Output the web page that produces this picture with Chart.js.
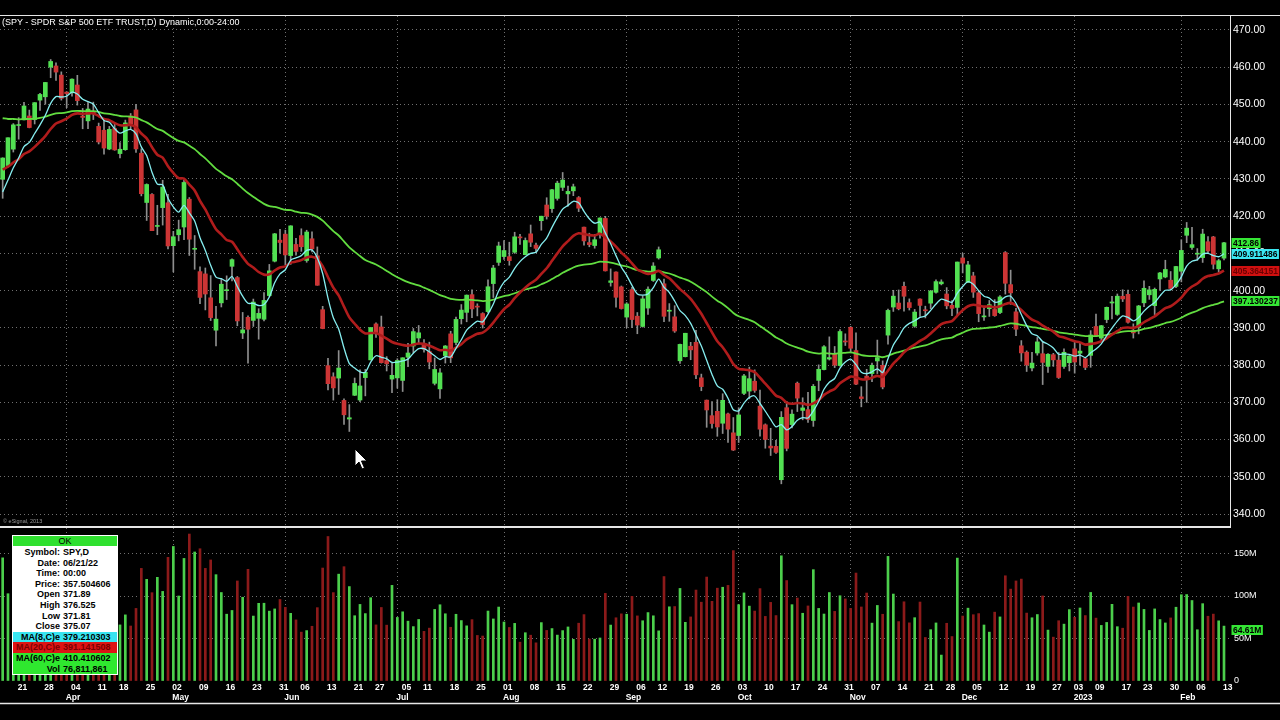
<!DOCTYPE html>
<html>
<head>
<meta charset="utf-8">
<script src="https://cdn.jsdelivr.net/npm/chart.js"></script>
<style>
  html, body { margin: 0; padding: 0; background: #000; }
  body { width: 1280px; height: 720px; position: relative; overflow: hidden; font-family: "Liberation Sans", Arial, sans-serif; }
  canvas { position: absolute; left: 0; }
  #priceChart { top: 0; }
  #volChart { top: 527px; }
  #title { position: absolute; left: 2px; top: 17px; color: #fff; font: 9px "Liberation Sans", Arial, sans-serif; white-space: nowrap; }
  #info { position: absolute; left: 12px; top: 535px; width: 106px; height: 140px; background: #fff; box-sizing: border-box; padding: 1px; font: bold 9px "Liberation Sans", Arial, sans-serif; color: #000; }
  #info .hdr { height: 10px; line-height: 10px; background: #2fe02f; text-align: center; font-weight: normal; margin-bottom: 1px; }
  #info .row { height: 10.6px; line-height: 10.6px; white-space: nowrap; }
  #info .k { display: inline-block; width: 47px; text-align: right; }
  #info .v { margin-left: 3px; }
  #info .cyan { background: #38e4f0; }
  #info .red { background: #dd1414; color: #7a0000; }
  #info .green { background: #2fe82f; }
</style>
</head>
<body>
<canvas id="priceChart" width="1280" height="528"></canvas>
<canvas id="volChart" width="1280" height="183"></canvas>
<div id="title">(SPY - SPDR S&amp;P 500 ETF TRUST,D) Dynamic,0:00-24:00</div>
<div id="info">
  <div class="hdr">OK</div>
  <div class="row"><span class="k">Symbol:</span><span class="v">SPY,D</span></div>
  <div class="row"><span class="k">Date:</span><span class="v">06/21/22</span></div>
  <div class="row"><span class="k">Time:</span><span class="v">00:00</span></div>
  <div class="row"><span class="k">Price:</span><span class="v">357.504606</span></div>
  <div class="row"><span class="k">Open</span><span class="v">371.89</span></div>
  <div class="row"><span class="k">High</span><span class="v">376.525</span></div>
  <div class="row"><span class="k">Low</span><span class="v">371.81</span></div>
  <div class="row"><span class="k">Close</span><span class="v">375.07</span></div>
  <div class="row cyan"><span class="k">MA(8,C)e</span><span class="v">379.210303</span></div>
  <div class="row red"><span class="k">MA(20,C)e</span><span class="v">391.141508</span></div>
  <div class="row green"><span class="k">MA(60,C)e</span><span class="v">410.410602</span></div>
  <div class="row green"><span class="k">Vol</span><span class="v">76,811,861</span></div>
</div>
<script>
// trading calendar
const START = "2022-03-16";
const END = "2023-02-13";
const HOLIDAYS = ["2022-04-15", "2022-05-30", "2022-06-20", "2022-07-04", "2022-09-05",
  "2022-11-24", "2022-12-26", "2023-01-02", "2023-01-16"];
const MONTHS = ["Jan", "Feb", "Mar", "Apr", "May", "Jun", "Jul", "Aug", "Sep", "Oct", "Nov", "Dec"];

// daily bars, one line per month (Mar 2022 .. Feb 2023)
const OPEN = [
  429.89,433.59,438.00,444.34,445.86,446.91,445.94,451.16,452.06,460.02,460.34,457.89,
  453.31,453.13,455.22,446.89,445.59,447.97,444.11,443.08,438.03,443.55,436.81,437.86,446.92,448.54,436.91,423.67,425.83,417.24,422.29,423.59,
  412.07,415.01,417.08,424.55,411.10,405.10,404.49,398.07,389.37,396.71,399.98,406.53,403.50,388.62,392.83,392.00,392.56,392.31,398.67,407.91,413.55,
  415.17,409.42,412.40,414.78,408.10,413.93,409.34,394.88,379.85,376.85,376.51,370.51,365.51,371.89,370.62,376.64,381.40,391.05,390.23,381.23,376.24,
  376.56,375.88,382.11,385.12,387.27,385.85,383.65,375.10,373.61,382.55,388.38,386.08,392.47,394.16,398.92,395.75,393.84,394.36,401.89,407.58,
  409.15,409.12,410.30,414.37,409.66,415.25,412.22,418.78,422.99,422.03,424.77,427.73,425.99,426.80,424.98,417.05,412.90,412.11,415.24,419.39,402.20,405.00,401.01,
  392.89,400.28,393.13,390.37,395.31,402.74,408.78,401.83,394.47,392.96,381.16,382.26,385.06,386.11,376.58,370.58,366.41,367.58,364.38,366.88,361.80,
  361.08,372.40,373.01,375.66,368.97,363.96,358.24,358.17,349.21,368.55,364.01,375.13,367.82,368.03,365.12,375.89,378.79,381.62,383.07,379.87,386.44,
  390.14,383.90,371.47,377.03,377.71,381.11,379.93,388.05,395.59,396.66,401.15,396.78,390.46,397.74,394.64,396.63,399.55,401.83,399.09,396.05,395.49,
  408.77,402.25,403.95,399.42,392.94,395.14,394.94,394.11,410.22,401.61,394.30,385.18,383.47,379.23,383.25,383.05,379.65,382.79,381.33,379.63,380.64,
  384.37,383.18,381.72,382.61,390.37,387.25,392.23,396.67,393.62,398.48,399.01,389.36,390.10,396.72,398.88,395.95,403.13,403.66,402.80,401.13,
  405.21,414.86,411.59,409.79,408.87,413.13,414.41,405.86,408.72
];
const HIGH = [
  435.68,441.07,444.86,446.46,450.58,448.49,450.50,452.98,455.91,462.07,461.20,458.76,
  453.46,456.91,457.83,448.93,450.69,450.63,445.00,445.75,444.11,444.73,439.75,445.80,447.57,450.01,438.08,428.69,426.04,422.92,429.64,425.87,
  415.92,418.93,429.66,425.00,414.80,406.41,406.08,404.04,395.80,403.18,403.97,408.57,403.80,394.14,393.21,397.73,395.15,399.45,407.04,415.38,416.46,
  416.24,417.44,414.04,416.61,416.22,415.82,411.74,395.78,381.81,377.94,383.90,370.94,369.38,376.53,378.72,378.83,390.09,391.36,393.16,382.27,380.66,
  381.70,381.98,385.87,389.83,390.64,386.87,386.16,381.92,379.05,385.25,389.09,392.87,396.26,398.84,400.18,396.47,394.06,402.88,406.80,413.03,
  413.41,413.00,415.68,415.09,414.15,417.62,412.75,419.99,424.95,427.21,429.40,431.73,428.05,428.61,425.26,417.05,415.42,415.11,419.56,419.96,405.84,405.08,401.24,
  396.78,400.87,394.12,398.59,401.02,407.51,411.73,403.10,396.51,395.96,385.62,388.55,386.12,389.31,377.58,370.62,370.21,370.71,372.30,367.11,365.91,
  368.55,377.49,379.46,378.72,373.29,364.21,363.03,359.82,367.51,370.26,367.98,375.45,371.22,372.67,374.80,380.06,385.25,387.58,385.00,389.52,388.40,
  390.39,388.63,374.20,378.87,380.57,386.72,381.14,395.04,400.09,400.18,402.31,397.78,394.95,397.81,395.82,400.07,402.93,402.91,400.81,397.30,407.68,
  410.00,407.86,404.93,399.99,395.64,397.36,397.58,398.64,410.49,405.50,395.25,386.58,383.82,383.40,387.41,386.21,383.06,383.15,383.39,384.35,382.58,
  386.43,385.88,381.84,389.25,393.70,390.65,395.60,398.49,399.10,400.23,400.12,391.08,396.04,402.65,401.15,400.70,404.92,408.16,405.13,406.53,
  413.67,418.31,416.97,411.29,416.49,414.53,414.57,408.44,412.97
];
const LOW = [
  424.80,433.19,437.22,440.68,445.86,443.71,444.76,448.43,450.06,457.18,456.47,451.16,
  449.14,452.26,449.82,443.47,443.53,445.94,439.39,436.65,437.84,437.68,435.61,437.68,443.48,437.10,425.44,418.84,416.07,415.01,417.60,411.21,
  405.02,413.36,413.71,409.44,405.73,396.50,394.82,391.96,385.15,395.61,397.60,402.58,390.55,387.11,380.54,390.38,386.96,391.89,398.45,407.70,410.03,
  406.93,407.04,409.51,410.55,407.61,410.38,401.44,389.75,373.30,370.59,372.12,364.08,362.17,371.81,370.18,371.73,381.37,387.44,380.53,378.42,372.56,
  373.80,372.90,379.60,383.27,385.66,383.50,378.99,374.66,371.04,380.54,380.66,385.39,391.03,391.63,392.75,393.21,389.95,394.05,398.15,406.77,
  408.40,406.82,410.00,412.44,409.60,411.83,410.22,416.22,419.21,421.03,424.28,426.88,422.65,425.50,421.22,412.21,411.77,411.39,414.09,405.25,401.20,395.58,395.04,
  390.04,390.05,388.42,390.20,393.58,402.46,408.46,391.69,391.76,388.78,380.46,382.18,381.44,376.38,373.11,363.29,363.03,360.87,361.62,359.21,357.04,
  359.21,372.07,370.95,372.68,360.94,357.67,355.71,356.30,348.11,356.96,363.13,367.52,365.30,364.61,363.54,373.11,378.67,381.35,379.33,379.68,385.26,
  383.29,374.76,368.79,370.00,375.53,377.72,373.61,385.64,394.41,394.83,394.49,394.79,390.14,393.04,392.66,395.15,399.31,401.54,395.11,393.30,393.48,
  404.75,402.14,398.17,391.64,391.97,393.07,393.10,393.80,399.07,396.31,387.89,381.04,378.28,378.43,382.66,374.77,378.03,379.65,376.42,379.08,378.43,
  377.83,380.00,378.76,379.41,387.67,386.27,391.38,392.42,393.34,397.06,391.28,387.26,388.38,395.72,397.64,393.56,400.03,403.44,400.28,400.77,
  402.35,412.88,411.09,408.10,407.57,409.93,405.81,405.01,408.24
];
const CLOSE = [
  435.62,441.07,444.52,444.39,449.59,443.80,450.49,452.69,455.91,461.55,458.70,451.64,
  452.92,456.80,451.03,446.52,448.77,447.57,439.92,438.29,443.31,437.79,437.97,445.04,444.71,438.06,426.04,428.51,416.10,417.27,427.81,412.00,
  414.48,416.38,429.06,413.81,411.34,398.17,399.09,392.75,392.34,401.72,400.09,408.32,391.86,389.46,389.63,396.92,393.89,397.37,405.31,415.26,412.93,
  409.59,417.39,410.54,411.79,415.74,411.22,401.44,389.80,375.00,373.87,379.20,366.65,365.86,375.07,374.39,378.06,390.08,388.59,380.65,380.34,377.25,
  381.24,381.96,383.25,388.99,388.67,384.23,380.83,378.83,377.91,385.13,381.95,392.27,394.77,398.79,395.09,395.57,390.89,401.04,406.07,411.99,
  410.77,408.06,414.45,414.17,413.47,412.99,411.35,419.99,419.99,427.10,428.86,429.70,426.65,427.89,422.14,413.35,412.35,413.67,419.51,405.31,402.63,398.21,395.18,
  396.42,392.24,390.76,397.78,400.38,406.60,410.97,393.10,394.69,389.15,385.56,388.55,384.09,377.39,374.22,367.95,364.31,363.38,370.53,362.79,357.18,
  366.61,377.09,376.35,373.20,362.79,360.02,357.74,356.56,365.97,357.63,366.82,371.13,368.50,365.41,374.29,378.87,384.92,382.02,379.98,389.02,386.21,
  384.52,374.87,371.01,376.35,379.95,382.00,374.13,394.69,398.51,395.12,398.49,395.45,394.24,396.03,394.59,399.90,402.42,402.33,395.91,395.23,407.68,
  407.38,406.91,399.59,393.83,393.16,396.24,393.28,398.31,401.97,399.40,389.63,383.27,380.02,380.54,386.23,380.72,382.91,381.40,376.66,383.44,382.43,
  380.82,383.76,379.38,388.08,387.86,390.58,395.52,396.96,398.50,397.77,391.49,388.64,395.88,400.63,400.20,400.35,404.75,405.68,400.59,406.48,
  410.80,416.78,412.35,409.83,415.19,410.65,407.09,408.04,412.86
];
// volume in millions
const VOLUME = [
  144.9,102.7,157.3,88.3,74.6,79.4,64.6,77.2,68.5,86.3,79.7,121.7,
  89.0,59.6,74.9,106.9,78.0,79.3,89.8,84.4,74.1,97.9,66.0,77.8,64.7,85.4,132.5,119.6,103.9,122.0,105.4,145.5,
  158.3,100.0,144.2,172.9,151.8,155.6,132.5,142.4,125.1,104.1,78.6,83.0,117.7,98.5,131.4,76.4,91.4,91.5,82.2,84.8,95.9,
  86.6,79.6,71.9,57.5,59.3,64.4,86.3,132.9,170.0,104.0,125.7,134.5,111.1,76.8,90.1,79.3,98.0,66.0,86.5,65.7,112.5,
  74.8,81.4,70.4,64.0,72.4,58.4,62.2,84.2,89.7,79.1,63.2,78.5,71.1,64.9,72.2,53.6,52.9,82.3,73.0,87.0,
  69.4,63.0,67.8,45.7,56.8,53.9,44.9,68.7,59.5,61.7,54.0,59.3,63.6,49.0,68.0,78.1,49.4,49.2,50.6,103.1,65.8,74.4,79.0,
  78.6,99.6,76.6,70.9,80.5,76.7,59.0,122.9,87.3,87.6,108.9,69.0,75.4,107.0,92.7,122.3,93.7,109.2,110.3,112.5,153.4,
  89.8,103.6,88.1,82.3,108.7,76.0,92.5,77.0,147.3,118.2,89.8,97.6,79.7,88.3,131.0,85.4,78.8,104.1,81.9,100.3,96.6,
  85.4,127.0,87.1,103.5,68.1,88.9,78.5,146.6,102.3,69.9,93.2,68.4,74.5,92.9,51.2,60.4,68.3,30.5,67.9,52.3,144.6,
  76.4,85.7,78.0,79.3,65.9,57.5,81.0,75.4,123.8,108.1,117.7,119.9,79.9,74.4,78.2,100.1,59.9,51.6,70.9,66.9,84.0,
  74.9,85.9,77.0,104.2,74.0,65.4,68.9,90.2,63.9,62.1,99.6,87.0,91.8,84.2,59.5,84.8,72.3,68.3,74.2,86.8,
  101.5,101.7,94.7,60.3,91.0,76.2,78.7,70.8,64.6
];
// moving averages as plotted
const MA8 = [
  426.5,429.7,433.0,435.6,438.7,439.8,442.2,444.5,447.1,450.3,452.1,452.0,
  452.2,453.3,452.8,451.4,450.8,450.1,447.8,445.7,445.2,443.5,442.3,442.9,443.3,442.1,438.6,436.3,431.8,428.6,428.4,424.8,
  422.5,421.1,422.9,420.9,418.7,414.2,410.8,406.8,403.6,403.2,402.5,403.8,401.1,398.5,396.6,396.6,396.0,396.3,398.3,402.1,404.5,
  405.6,408.2,408.8,409.4,410.8,410.9,408.8,404.6,398.0,392.7,389.7,384.6,380.4,379.2,378.2,378.1,380.8,382.5,382.1,381.7,380.7,
  380.8,381.1,381.6,383.2,384.4,384.4,383.6,382.5,381.5,382.3,382.2,384.5,386.8,389.4,390.7,391.8,391.6,393.7,396.4,399.9,
  402.3,403.6,406.0,407.8,409.1,410.0,410.3,412.4,414.1,417.0,419.6,421.9,422.9,424.0,423.6,421.3,419.3,418.1,418.4,415.5,412.6,409.4,406.3,
  404.1,401.4,399.1,398.8,399.1,400.8,403.1,400.9,399.5,397.2,394.6,393.3,391.2,388.2,385.1,381.3,377.5,374.4,373.5,371.1,368.0,
  367.7,369.8,371.3,371.7,369.7,367.6,365.4,363.4,364.0,362.6,363.5,365.2,365.9,365.8,367.7,370.2,373.5,375.4,376.4,379.2,380.8,
  381.6,380.1,378.1,377.7,378.2,379.0,378.0,381.7,385.4,387.6,390.0,391.2,391.9,392.8,393.2,394.7,396.4,397.7,397.3,396.9,399.3,
  401.1,402.4,401.7,400.0,398.5,398.0,396.9,397.2,398.3,398.5,396.6,393.6,390.6,388.4,387.9,386.3,385.6,384.6,382.9,383.0,382.9,
  382.4,382.7,382.0,383.3,384.3,385.7,387.9,389.9,391.8,393.2,392.8,391.9,392.8,394.5,395.8,396.8,398.6,400.1,400.2,401.6,
  403.7,406.6,407.9,408.3,409.8,410.0,409.4,409.1,409.9
];
const MA20 = [
  432.5,433.3,434.4,435.3,436.7,437.4,438.6,440.0,441.5,443.4,444.9,445.5,
  446.2,447.2,447.6,447.5,447.6,447.6,446.9,446.1,445.8,445.0,444.4,444.4,444.5,443.9,442.2,440.9,438.5,436.5,435.7,433.4,
  431.6,430.2,430.1,428.5,426.9,424.1,421.8,419.0,416.5,415.1,413.6,413.1,411.1,409.0,407.2,406.2,405.0,404.3,404.4,405.4,406.2,
  406.5,407.5,407.8,408.2,408.9,409.1,408.4,406.6,403.6,400.8,398.7,395.7,392.8,391.1,389.5,388.5,388.6,388.6,387.9,387.1,386.2,
  385.7,385.4,385.2,385.5,385.8,385.7,385.2,384.6,384.0,384.1,383.9,384.7,385.6,386.9,387.7,388.4,388.7,389.8,391.4,393.3,
  395.0,396.2,398.0,399.5,400.8,402.0,402.9,404.5,406.0,408.0,410.0,411.9,413.3,414.7,415.4,415.2,414.9,414.8,415.3,414.3,413.2,411.8,410.2,
  408.9,407.3,405.7,405.0,404.5,404.7,405.3,404.2,403.3,401.9,400.4,399.2,397.8,395.9,393.8,391.3,388.8,386.4,384.8,382.7,380.3,
  379.0,378.8,378.6,378.1,376.6,375.0,373.4,371.8,371.2,369.9,369.6,369.8,369.7,369.3,369.7,370.6,372.0,372.9,373.6,375.1,376.1,
  376.9,376.7,376.2,376.2,376.6,377.1,376.8,378.5,380.4,381.8,383.4,384.6,385.5,386.5,387.3,388.5,389.8,391.0,391.5,391.8,393.3,
  394.7,395.8,396.2,396.0,395.7,395.8,395.5,395.8,396.4,396.7,396.0,394.8,393.4,392.2,391.6,390.6,389.8,389.0,387.8,387.4,386.9,
  386.4,386.1,385.5,385.7,385.9,386.4,387.2,388.2,389.1,390.0,390.1,390.0,390.5,391.5,392.3,393.1,394.2,395.3,395.8,396.8,
  398.1,399.9,401.1,401.9,403.2,403.9,404.2,404.6,405.4
];
const MA60 = [
  446.3,446.1,446.1,446.0,446.1,446.1,446.2,446.4,446.7,447.2,447.6,447.7,
  447.9,448.2,448.3,448.2,448.2,448.2,448.0,447.6,447.5,447.2,446.9,446.8,446.7,446.5,445.8,445.2,444.3,443.4,442.9,441.9,
  441.0,440.2,439.8,438.9,438.0,436.7,435.5,434.1,432.7,431.7,430.7,429.9,428.7,427.4,426.2,425.2,424.2,423.3,422.7,422.5,422.1,
  421.7,421.6,421.2,420.9,420.8,420.4,419.8,418.8,417.4,416.0,414.8,413.2,411.6,410.4,409.3,408.2,407.6,407.0,406.2,405.3,404.4,
  403.6,402.9,402.3,401.8,401.4,400.8,400.2,399.5,398.8,398.3,397.8,397.6,397.5,397.6,397.5,397.4,397.2,397.3,397.6,398.1,
  398.5,398.8,399.3,399.8,400.3,400.7,401.0,401.7,402.3,403.1,403.9,404.8,405.5,406.2,406.7,407.0,407.1,407.4,407.8,407.7,407.5,407.2,406.8,
  406.5,406.0,405.5,405.3,405.1,405.1,405.3,404.9,404.6,404.1,403.5,403.0,402.4,401.5,400.6,399.6,398.4,397.3,396.4,395.3,394.0,
  393.1,392.6,392.1,391.5,390.5,389.5,388.5,387.4,386.7,385.8,385.2,384.7,384.2,383.6,383.3,383.1,383.2,383.1,383.0,383.2,383.3,
  383.4,383.1,382.7,382.5,382.4,382.4,382.1,382.5,383.1,383.5,383.9,384.3,384.7,385.0,385.3,385.8,386.4,386.9,387.2,387.4,388.1,
  388.7,389.3,389.7,389.8,389.9,390.1,390.2,390.5,390.9,391.2,391.1,390.8,390.5,390.2,390.0,389.7,389.5,389.2,388.8,388.6,388.4,
  388.2,388.0,387.8,387.8,387.8,387.9,388.1,388.4,388.7,389.0,389.1,389.1,389.3,389.7,390.0,390.4,390.8,391.3,391.6,392.1,
  392.7,393.5,394.1,394.6,395.3,395.8,396.2,396.6,397.1
];

const PRICE_TICKS = [340, 350, 360, 370, 380, 390, 400, 410, 420, 430, 440, 450, 460, 470];
const VOL_TICKS = [0, 50, 100, 150];
// last-value tags shown on the price axis
const PRICE_TAGS = ["412.86", "409.911486", "405.364151", "397.130237"];
const VOL_TAG = "64.61M";

const GREEN = "#52e052";
const RED = "#cc3535";
const GRID = "#707070";

function tradingDays(start, end, holidays) {
  const out = [];
  const d = new Date(start + "T00:00:00Z");
  const stop = new Date(end + "T00:00:00Z");
  while (d <= stop) {
    const iso = d.toISOString().slice(0, 10);
    const dow = d.getUTCDay();
    if (dow !== 0 && dow !== 6 && !holidays.includes(iso)) out.push(iso);
    d.setUTCDate(d.getUTCDate() + 1);
  }
  return out;
}

const DATES = tradingDays(START, END, HOLIDAYS);
const labels = DATES.concat([""]);

const dow = (iso) => new Date(iso + "T00:00:00Z").getUTCDay();
const monthStart = labels.map((iso, i) => i > 0 && iso !== "" && iso.slice(5, 7) !== labels[i - 1].slice(5, 7));
const tickText = labels.map((iso, i) => {
  if (i === 0 || iso === "") return "";
  const weekStart = dow(iso) <= dow(labels[i - 1]);
  const m = Number(iso.slice(5, 7));
  const day = weekStart ? iso.slice(8, 10) : "";
  const mon = monthStart[i] ? (m === 1 ? iso.slice(0, 4) : MONTHS[m - 1]) : "";
  if (!day && !mon) return "";
  return [day, mon];
});

const candleColor = (i) => {
  if (CLOSE[i] > OPEN[i]) return GREEN;
  if (CLOSE[i] < OPEN[i]) return RED;
  return "#b0b0b0";
};
const monthGrid = (ctx) => (monthStart[ctx.index] ? GRID : "transparent");

Chart.defaults.font.family = '"Liberation Sans", Arial, sans-serif';

const priceFrame = {
  id: "priceFrame",
  afterDraw(chart) {
    const { ctx, chartArea: a } = chart;
    const y = chart.scales.y;
    const edge = a.right - 1.5;
    ctx.save();
    ctx.strokeStyle = "#e6e6e6";
    ctx.lineWidth = 1;
    ctx.beginPath();
    ctx.moveTo(0, 15.5);
    ctx.lineTo(1280, 15.5);
    ctx.moveTo(edge, 15);
    ctx.lineTo(edge, a.bottom + 1);
    ctx.stroke();
    ctx.lineWidth = 2;
    ctx.beginPath();
    ctx.moveTo(0, a.bottom + 1);
    ctx.lineTo(edge + 0.5, a.bottom + 1);
    ctx.stroke();

    // value tags on the axis
    const n = CLOSE.length - 1;
    const tags = [
      [CLOSE[n], PRICE_TAGS[0], "#35e635", "#000"],
      [MA8[n], PRICE_TAGS[1], "#3ae6f0", "#000"],
      [MA20[n], PRICE_TAGS[2], "#d01010", "#6a0000"],
      [MA60[n], PRICE_TAGS[3], "#35e635", "#000"]
    ];
    ctx.font = "bold 8.5px 'Liberation Sans', Arial, sans-serif";
    ctx.textBaseline = "middle";
    tags.forEach(([v, txt, bg, fg]) => {
      const py = Math.round(y.getPixelForValue(v));
      const w = ctx.measureText(txt).width + 3;
      ctx.fillStyle = bg;
      ctx.fillRect(edge + 1, py - 5, w, 10);
      ctx.fillStyle = fg;
      ctx.fillText(txt, edge + 2.5, py + 0.5);
    });

    ctx.fillStyle = "#9a9a9a";
    ctx.font = "5.5px 'Liberation Sans', Arial, sans-serif";
    ctx.textBaseline = "alphabetic";
    ctx.fillText("\u00a9 eSignal, 2013", 3, 523);

    // mouse pointer
    ctx.beginPath();
    ctx.moveTo(355, 449);
    ctx.lineTo(355, 466);
    ctx.lineTo(359, 462);
    ctx.lineTo(362, 469);
    ctx.lineTo(364.5, 468);
    ctx.lineTo(361.5, 461);
    ctx.lineTo(367, 461);
    ctx.closePath();
    ctx.fillStyle = "#fff";
    ctx.fill();
    ctx.lineWidth = 1;
    ctx.strokeStyle = "#000";
    ctx.stroke();
    ctx.restore();
  }
};

const volFrame = {
  id: "volFrame",
  afterDraw(chart) {
    const { ctx, chartArea: a } = chart;
    const y = chart.scales.y;
    ctx.save();
    ctx.strokeStyle = "#e6e6e6";
    ctx.lineWidth = 1.5;
    ctx.beginPath();
    ctx.moveTo(0, 176.5);
    ctx.lineTo(1280, 176.5);
    ctx.stroke();
    const py = Math.round(y.getPixelForValue(VOLUME[VOLUME.length - 1])) + 4;
    ctx.font = "bold 8.5px 'Liberation Sans', Arial, sans-serif";
    ctx.textBaseline = "middle";
    const w = ctx.measureText(VOL_TAG).width + 3;
    ctx.fillStyle = "#35e635";
    ctx.fillRect(a.right - 0.5, py - 5, w, 10);
    ctx.fillStyle = "#000";
    ctx.fillText(VOL_TAG, a.right + 1, py + 0.5);
    ctx.restore();
  }
};

new Chart(document.getElementById("priceChart"), {
  type: "bar",
  data: {
    labels: labels,
    datasets: [
      {
        type: "line", label: "MA(8,C)e", data: MA8, borderColor: "#86eef0", borderWidth: 1.3,
        pointRadius: 0, tension: 0.25, order: 1
      },
      {
        type: "line", label: "MA(20,C)e", data: MA20, borderColor: "#b01c1c", borderWidth: 2.6,
        pointRadius: 0, tension: 0.25, order: 2
      },
      {
        type: "line", label: "MA(60,C)e", data: MA60, borderColor: "#62dd40", borderWidth: 1.8,
        pointRadius: 0, tension: 0.25, order: 3
      },
      {
        label: "body",
        data: OPEN.map((o, i) => [Math.min(o, CLOSE[i]), Math.max(o, CLOSE[i])]),
        backgroundColor: (ctx) => candleColor(ctx.dataIndex),
        barThickness: 4, minBarLength: 1, grouped: false, order: 4
      },
      {
        label: "wick",
        data: LOW.map((l, i) => [l, HIGH[i]]),
        backgroundColor: "#8e8e8e",
        barThickness: 1, grouped: false, order: 5
      }
    ]
  },
  options: {
    responsive: false,
    animation: false,
    events: [],
    layout: { padding: { top: 16, bottom: 2, left: 0, right: 0 } },
    plugins: { legend: { display: false }, tooltip: { enabled: false } },
    scales: {
      x: {
        offset: true,
        grid: { offset: false, color: monthGrid, drawTicks: false, lineWidth: 1 },
        border: { display: false, dash: [1, 3] },
        ticks: { display: false, autoSkip: false },
        afterFit: (s) => { s.height = 0; s.paddingLeft = 0; s.paddingRight = 0; }
      },
      y: {
        position: "right",
        min: 336.78,
        max: 473.76,
        afterBuildTicks: (s) => { s.ticks = PRICE_TICKS.map((v) => ({ value: v })); },
        afterFit: (s) => { s.width = 48; s.paddingTop = 0; s.paddingBottom = 0; },
        grid: { color: GRID, drawTicks: false },
        border: { display: false, dash: [1, 3] },
        ticks: {
          color: "#ffffff", padding: 1,
          font: { size: 10.5 },
          callback: (v) => Number(v).toFixed(2)
        }
      }
    }
  },
  plugins: [priceFrame]
});

new Chart(document.getElementById("volChart"), {
  type: "bar",
  data: {
    labels: labels,
    datasets: [
      {
        label: "Vol",
        data: VOLUME,
        backgroundColor: (ctx) => (CLOSE[ctx.dataIndex] >= OPEN[ctx.dataIndex] ? "#4ccf4c" : "#8c1a1a"),
        barThickness: 2
      }
    ]
  },
  options: {
    responsive: false,
    animation: false,
    events: [],
    layout: { padding: { top: 1, bottom: 0, left: 0, right: 0 } },
    plugins: { legend: { display: false }, tooltip: { enabled: false } },
    scales: {
      x: {
        offset: true,
        grid: { offset: false, color: monthGrid, drawTicks: false },
        border: { display: false, dash: [1, 3] },
        ticks: {
          autoSkip: false, maxRotation: 0, minRotation: 0, align: "start",
          color: "#ffffff", padding: 2, labelOffset: -1,
          font: { size: 8.5, weight: "bold", lineHeight: 1.15 },
          callback: (v, i) => tickText[i]
        },
        afterFit: (s) => { s.height = 29; s.paddingLeft = 0; s.paddingRight = 0; }
      },
      y: {
        position: "right",
        min: 0,
        max: 180,
        afterBuildTicks: (s) => { s.ticks = VOL_TICKS.map((v) => ({ value: v })); },
        afterFit: (s) => { s.width = 48; s.paddingTop = 0; s.paddingBottom = 0; },
        grid: { color: (ctx) => (ctx.tick && ctx.tick.value === 0 ? "transparent" : GRID), drawTicks: false },
        border: { display: false, dash: [1, 3] },
        ticks: {
          color: "#ffffff", padding: 2,
          font: { size: 9 },
          callback: (v) => (v === 0 ? "0" : v + "M")
        }
      }
    }
  },
  plugins: [volFrame]
});
</script>
</body>
</html>
